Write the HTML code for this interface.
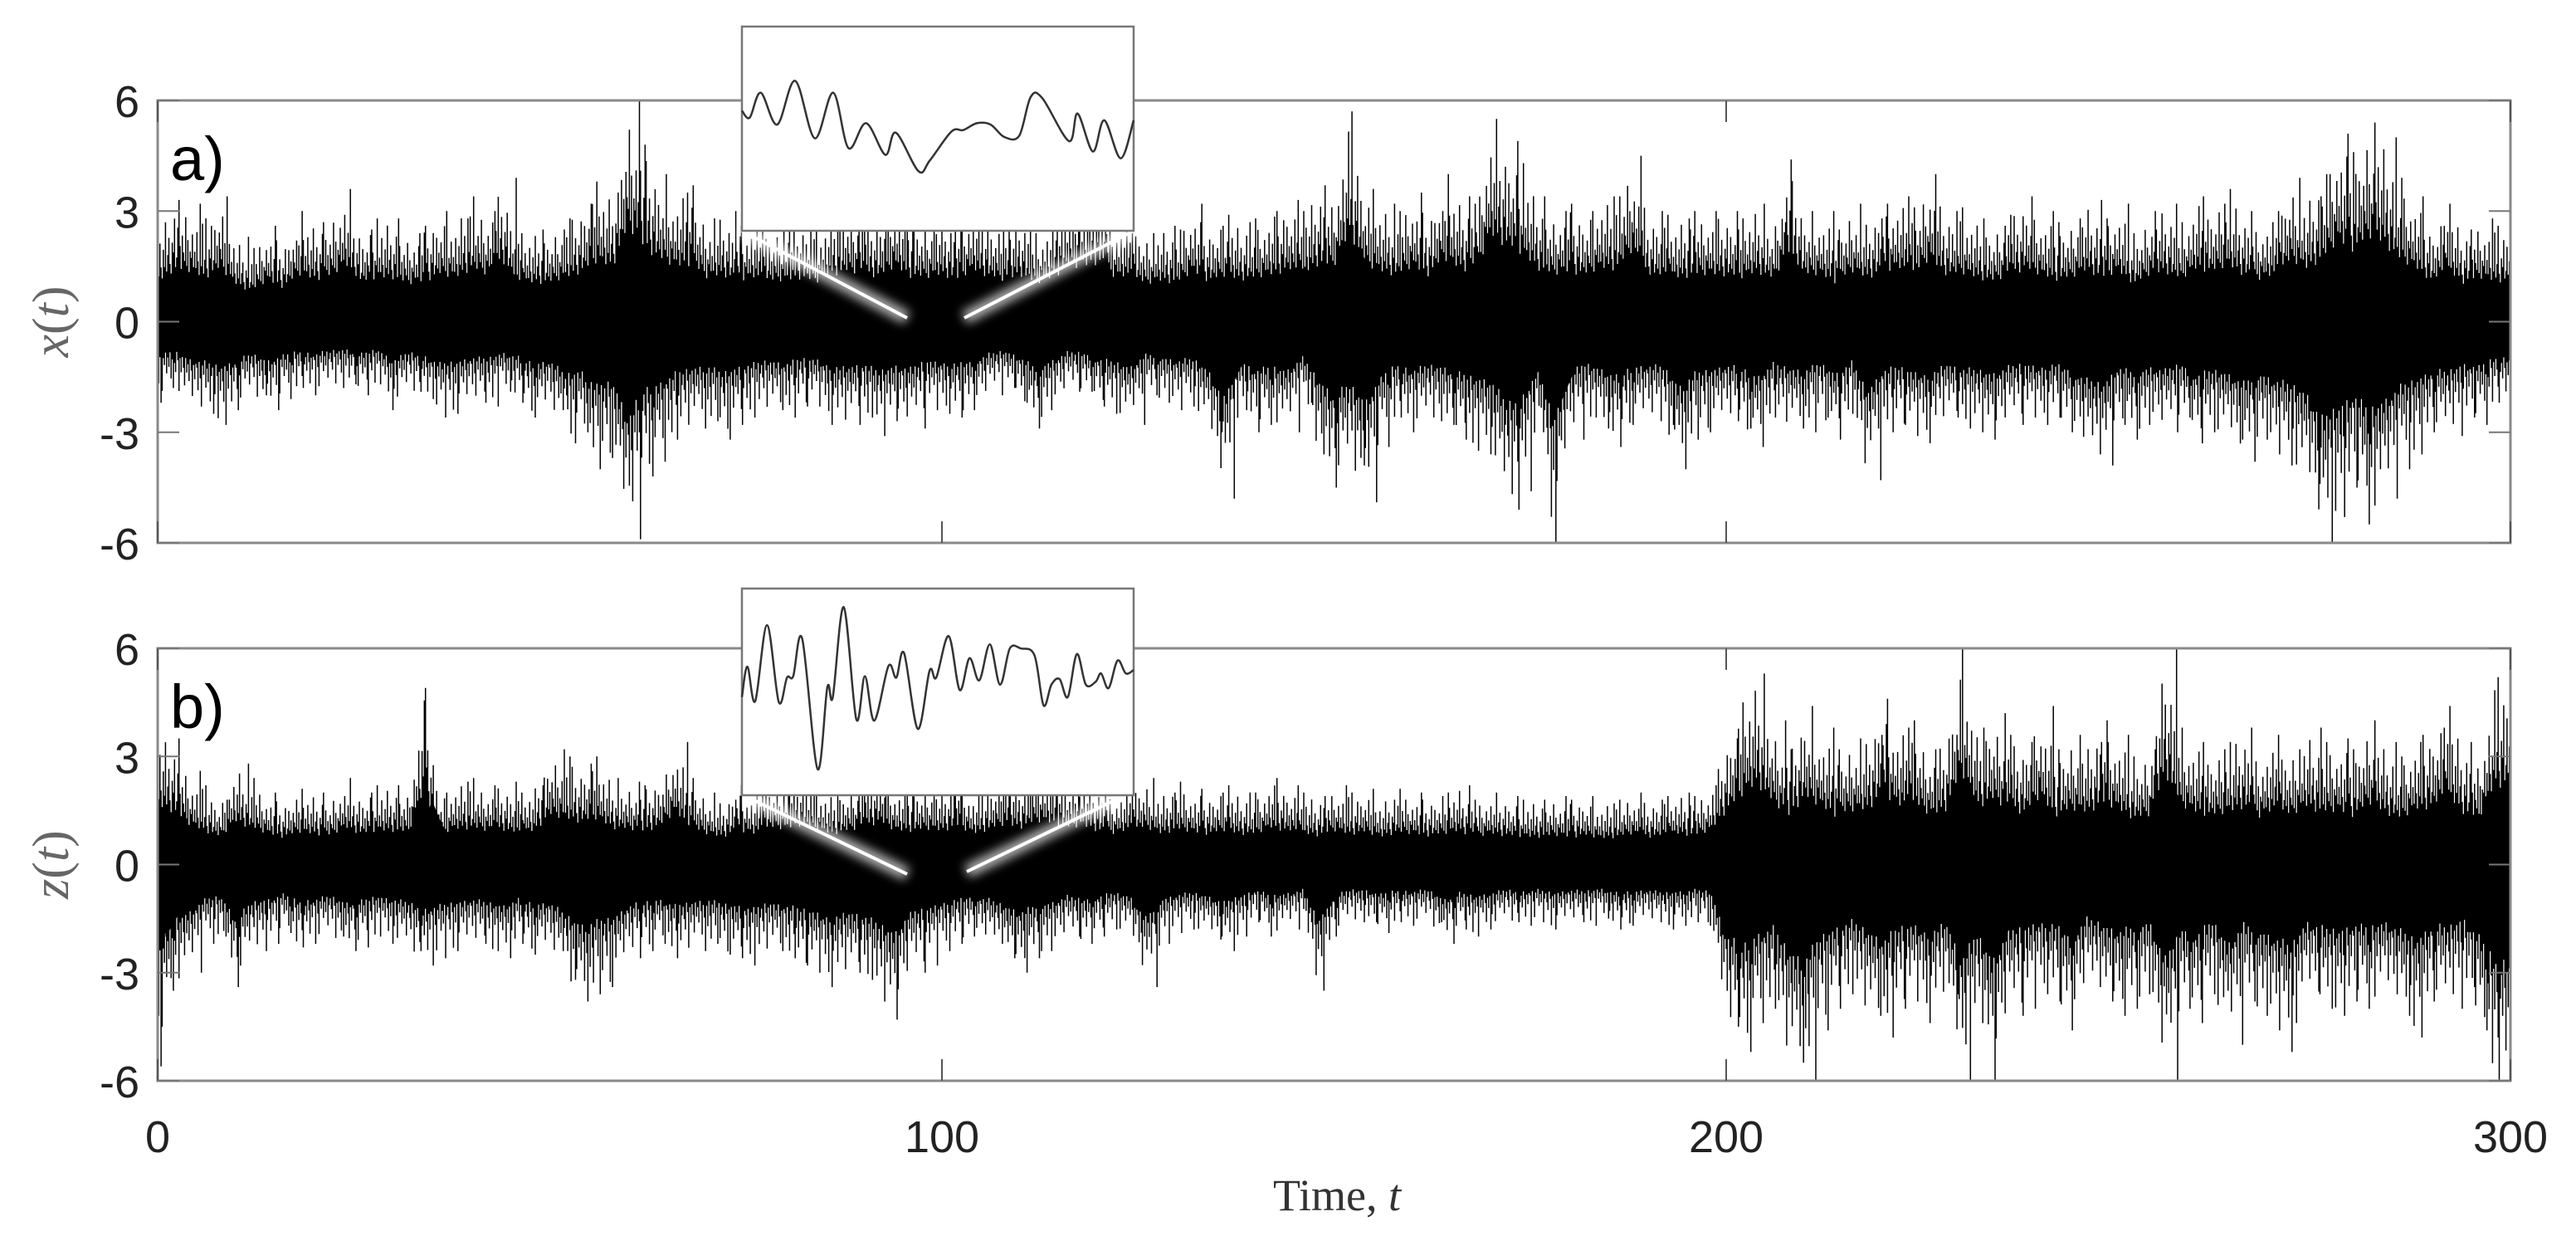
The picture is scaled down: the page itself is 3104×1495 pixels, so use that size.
<!DOCTYPE html>
<html><head><meta charset="utf-8"><style>
html,body{margin:0;padding:0;background:#fff;}
svg{display:block;}
</style></head><body>
<svg id="fig" width="3104" height="1495" viewBox="0 0 3104 1495" xmlns="http://www.w3.org/2000/svg">
<defs>
<clipPath id="clipA"><rect x="190" y="121" width="2835" height="533"/></clipPath>
<clipPath id="clipB"><rect x="190" y="781" width="2835" height="521"/></clipPath>
<filter id="glow" x="-20%" y="-50%" width="140%" height="200%"><feGaussianBlur stdDeviation="6"/></filter>
</defs>
<g id="panelA"></g>
<g id="panelB"></g>
<text x="1611" y="1458" font-family="Liberation Serif, serif" font-size="54" fill="#333" text-anchor="middle">Time, <tspan font-style="italic">t</tspan></text>
</svg>
<script>
const timeTicks = [0, 100, 200, 300];
const valueTicks = [6, 3, 0, -3, -6];
const binStart = 0, binStep = 2;
const xHi = [2.5,3.3,3.2,2.8,3.4,2.3,2.0,2.6,2.2,3.0, 2.7,2.9,3.6,2.5,2.8,2.8,2.4,2.6,3.0,2.8, 3.4,3.0,3.9,2.4,2.5,2.5,2.8,3.2,3.8,3.5, 6.0,4.8,4.0,3.5,3.7,2.8,3.0,2.6,2.8,2.6, 2.6,2.8,2.5,3.0,3.2,3.0,2.9,3.5,2.9,2.8, 3.0,2.7,3.3,2.9,2.6,3.0,2.4,2.8,3.4,3.5, 3.8,2.8,2.9,2.4,2.6,2.5,3.2,2.6,2.9,2.7, 2.8,3.0,3.3,3.0,3.7,3.5,5.7,3.6,3.2,3.0, 3.5,3.0,4.0,3.4,3.2,5.5,4.9,4.3,3.4,3.0, 3.2,3.0,3.4,3.4,4.5,3.0,2.9,2.8,3.0,3.0, 3.0,2.8,3.2,2.7,4.4,3.0,3.0,2.5,3.2,2.8, 3.2,3.4,3.1,4.0,3.0,3.1,2.8,2.6,2.9,3.4, 3.0,2.7,2.8,3.3,2.8,3.2,2.4,3.0,3.2,2.7, 3.4,3.2,3.6,3.0,2.7,3.0,3.9,3.4,4.0,5.1, 4.6,5.4,5.0,3.9,3.4,2.6,3.2,2.5,2.8,2.6];
const xLo = [-2.2,-1.8,-2.3,-2.5,-2.8,-2.4,-2.0,-2.4,-2.1,-1.8, -2.0,-1.8,-1.7,-2.0,-1.7,-2.4,-1.9,-2.1,-2.6,-2.5, -2.2,-2.3,-1.9,-2.2,-2.6,-2.4,-3.3,-3.0,-4.0,-3.7, -5.9,-4.2,-3.8,-3.2,-2.9,-2.7,-3.2,-2.8,-2.6,-2.4, -2.6,-2.3,-2.3,-2.8,-2.8,-2.6,-3.1,-2.7,-2.9,-2.4, -2.5,-2.6,-2.4,-2.0,-1.8,-2.2,-2.9,-2.4,-1.9,-1.9, -2.3,-2.5,-2.8,-2.0,-2.2,-2.4,-2.3,-3.0,-4.8,-2.4, -3.0,-2.8,-3.0,-2.2,-3.6,-4.5,-3.9,-4.9,-3.4,-2.6, -3.0,-2.7,-2.8,-3.2,-3.5,-3.6,-5.1,-4.6,-3.0,-6.0, -3.2,-2.6,-2.9,-3.4,-2.8,-2.7,-2.8,-4.0,-3.2,-3.0, -2.7,-2.9,-3.4,-2.6,-2.9,-3.0,-2.6,-3.2,-2.5,-4.3, -3.0,-2.8,-3.1,-3.3,-2.6,-2.9,-3.0,-3.2,-2.8,-2.6, -2.8,-2.6,-3.0,-3.6,-3.9,-2.8,-3.2,-2.8,-3.0,-2.6, -3.3,-3.0,-3.2,-3.8,-3.2,-3.6,-3.9,-4.4,-6.0,-5.3, -4.5,-5.5,-4.8,-4.0,-3.6,-3.0,-3.1,-2.6,-2.8,-2.2];
const zHi = [3.8,3.5,2.6,2.2,1.8,2.8,2.4,2.0,1.8,2.1, 2.0,1.9,2.4,2.0,2.2,2.2,2.1,4.9,2.0,2.3, 2.4,2.2,2.3,2.0,2.2,3.2,3.0,2.8,3.0,2.4, 2.3,2.2,2.5,3.4,2.4,2.0,1.8,2.2,2.0,2.4, 2.3,2.6,2.2,2.0,2.2,2.4,2.8,2.2,2.2,2.3, 2.2,2.5,2.0,2.3,2.6,2.4,2.8,2.7,2.4,2.5, 2.2,2.0,2.3,2.4,2.0,2.3,2.1,2.0,2.2,2.0, 2.0,2.4,2.2,2.0,1.9,2.2,2.0,2.1,1.8,2.1, 2.0,1.9,2.0,2.2,1.8,2.0,1.9,1.8,1.8,1.9, 1.8,1.9,1.7,1.8,2.0,1.8,1.9,2.0,1.9,2.2, 3.5,4.5,5.3,4.0,3.2,4.4,3.8,3.2,3.5,3.6, 4.6,3.8,4.0,3.2,3.6,6.0,3.8,4.2,3.6,3.4, 4.4,3.2,3.6,3.4,4.0,3.6,3.0,3.2,6.0,3.8, 3.4,3.2,3.4,3.8,3.1,3.6,3.2,3.8,3.4,3.5, 3.2,4.0,3.4,3.0,3.6,3.8,4.4,3.4,3.0,5.2];
const zLo = [-5.6,-3.5,-3.0,-2.2,-2.0,-3.4,-2.4,-2.2,-1.9,-2.3, -2.2,-2.0,-2.4,-2.3,-2.0,-2.2,-2.4,-2.8,-2.6,-2.4, -2.2,-2.4,-2.6,-2.2,-2.5,-2.4,-3.2,-3.8,-3.6,-3.4, -2.6,-2.4,-2.2,-2.6,-2.4,-2.2,-2.5,-2.6,-2.8,-2.4, -2.6,-2.8,-3.0,-3.4,-3.0,-3.2,-3.8,-4.3,-3.0,-2.8, -2.4,-2.2,-2.0,-2.2,-2.6,-3.0,-2.6,-2.4,-2.0,-2.2, -2.0,-1.8,-2.0,-3.4,-2.2,-1.9,-1.8,-2.0,-2.4,-2.0, -1.6,-2.0,-1.8,-1.6,-3.5,-2.0,-1.6,-1.6,-1.9,-1.6, -1.7,-1.6,-2.2,-1.8,-2.0,-1.8,-1.6,-1.7,-1.6,-1.8, -1.6,-1.7,-1.5,-1.8,-1.7,-1.6,-1.8,-1.7,-1.6,-1.7, -4.5,-5.2,-4.4,-4.0,-5.5,-6.0,-4.6,-4.0,-3.6,-4.2, -4.8,-4.0,-3.8,-4.4,-3.6,-6.0,-4.4,-6.0,-4.2,-4.0, -3.6,-3.8,-4.6,-3.4,-3.8,-4.2,-4.0,-3.6,-6.0,-4.0, -4.4,-3.6,-5.0,-3.8,-4.2,-4.6,-5.2,-3.6,-4.0,-4.2, -3.8,-4.0,-3.6,-4.2,-4.8,-3.8,-4.0,-3.4,-4.6,-6.0];
const insetAX = [0,0.02,0.048,0.09,0.136,0.186,0.233,0.272,0.317,0.366,0.393,0.451,0.48,0.535,0.565,0.6,0.635,0.67,0.708,0.737,0.767,0.835,0.857,0.896,0.925,0.967,1];
const insetAY = [0.412,0.446,0.324,0.480,0.266,0.547,0.324,0.595,0.473,0.628,0.520,0.709,0.655,0.514,0.507,0.473,0.480,0.541,0.534,0.345,0.351,0.561,0.426,0.612,0.459,0.645,0.459];
const insetBX = [0,0.014,0.034,0.064,0.094,0.115,0.131,0.154,0.193,0.218,0.232,0.26,0.292,0.314,0.338,0.374,0.394,0.414,0.449,0.479,0.496,0.528,0.556,0.581,0.606,0.633,0.659,0.684,0.712,0.747,0.77,0.79,0.811,0.832,0.855,0.878,0.903,0.917,0.936,0.959,0.98,1];
const insetBY = [0.525,0.378,0.545,0.177,0.549,0.431,0.424,0.244,0.873,0.478,0.525,0.090,0.632,0.424,0.639,0.375,0.431,0.313,0.679,0.398,0.431,0.230,0.491,0.337,0.444,0.270,0.465,0.290,0.290,0.324,0.565,0.465,0.438,0.525,0.317,0.465,0.451,0.411,0.482,0.348,0.411,0.394];

const NS = 'http://www.w3.org/2000/svg';
function mk(parent, tag, attrs){ const e = document.createElementNS(NS, tag); for (const k in attrs) e.setAttribute(k, attrs[k]); parent.appendChild(e); return e; }
const X0 = 190, X1 = 3025;
function xScale(t){ return X0 + (t - 0) / 300 * (X1 - X0); }
// rendering texture pattern (fractions of envelope), not data
const texH = [0.62,0.48,0.81,0.55,0.43,0.7,0.52,0.93,0.46,0.6,0.74,0.5,0.41,0.66,0.57,0.85,0.45,0.53,0.78,0.49,0.63,0.44,0.72,0.58,0.51,0.88,0.47,0.69,0.42,0.6,0.55,0.76,0.48];
const texL = [0.52,0.77,0.45,0.63,0.9,0.48,0.58,0.42,0.71,0.5,0.64,0.44,0.83,0.56,0.47,0.61,0.73,0.43,0.54,0.95,0.49,0.67,0.46,0.59,0.8,0.45,0.62,0.51,0.7,0.44,0.57,0.86,0.5,0.66,0.48];

function drawPanel(g, top, bot, hi, lo, clipId, label, axisLabel, panelLabel, inset, insetX, insetY, conn, showXTicks){
  const yScale = v => top + (6 - v) / 12 * (bot - top);
  const dg = mk(g, 'g', {'clip-path': 'url(#' + clipId + ')'});
  
  
  let d = '';
  const K = 14;
  let c = 0;
  for (let i = 0; i < hi.length; i++){
    const nh = i + 1 < hi.length ? hi[i+1] : hi[i];
    const nl = i + 1 < lo.length ? lo[i+1] : lo[i];
    const spikeK = (i * 5) % K, spikeK2 = (i * 11 + 3) % K;
    for (let k = 0; k < K; k++){
      const f = k / K;
      const t = binStart + (i + f) * binStep;
      const eh = hi[i] * (1 - f) + nh * f, el = lo[i] * (1 - f) + nl * f;
      let h = eh * texH[c % texH.length];
      let l = el * texL[c % texL.length];
      if (k === spikeK) h = hi[i];
      if (k === spikeK2) l = lo[i];
      c++;
      const x = xScale(t).toFixed(1);
      d += 'M' + x + ' ' + yScale(h).toFixed(1) + 'V' + yScale(l).toFixed(1);
    }
  }
  const p = mk(dg, 'path', {d: d, stroke: '#000', 'stroke-width': 1.5, fill: 'none'});
  
  
  let core = '';
  for (let i = 0; i < hi.length; i++) core += (i ? 'L' : 'M') + xScale(binStart + (i + 0.5) * binStep).toFixed(1) + ' ' + yScale(hi[i] * 0.36).toFixed(1);
  for (let i = hi.length - 1; i >= 0; i--) core += 'L' + xScale(binStart + (i + 0.5) * binStep).toFixed(1) + ' ' + yScale(lo[i] * 0.36).toFixed(1);
  const cb = mk(dg, 'path', {d: core + 'Z', fill: '#000'});
  
  
  const box = mk(g, 'rect', {x: X0, y: top, width: X1 - X0, height: bot - top, fill: 'none', stroke: '#8a8a8a', 'stroke-width': 3});
  
  
  for (const t of timeTicks){
    const x = xScale(t);
    const tk = mk(g, 'path', {d: 'M' + x + ' ' + bot + 'v-26M' + x + ' ' + top + 'v26', stroke: '#555', 'stroke-width': 2});
    
    
    if (showXTicks){
      const tl = mk(g, 'text', {x: x, y: bot + 86, 'font-family': 'Liberation Sans, sans-serif', 'font-size': 54, fill: '#222', 'text-anchor': 'middle'});
      tl.textContent = t;
      
      
    }
  }
  for (const v of valueTicks){
    const y = yScale(v);
    const tk = mk(g, 'path', {d: 'M' + X0 + ' ' + y + 'h26M' + X1 + ' ' + y + 'h-26', stroke: '#777', 'stroke-width': 2});
    
    
    const tl = mk(g, 'text', {x: 168, y: y + 20, 'font-family': 'Liberation Sans, sans-serif', 'font-size': 54, fill: '#222', 'text-anchor': 'end'});
    tl.textContent = v;
    
    
  }
  const cy = (top + bot) / 2;
  const yt = mk(g, 'text', {x: 0, y: 0, transform: 'translate(82,' + cy + ') rotate(-90)', 'font-family': 'Liberation Serif, serif', 'font-size': 62, 'font-style': 'italic', fill: '#666', 'text-anchor': 'middle'});
  yt.innerHTML = axisLabel + '<tspan font-style="normal">(</tspan>t<tspan font-style="normal">)</tspan>';
  
  
  const pl = mk(g, 'text', {x: 205, y: top + 96, 'font-family': 'Liberation Sans, sans-serif', 'font-size': 74, fill: '#000'});
  pl.textContent = panelLabel;
  
  
  const cg = mk(g, 'g', {});
  
  
  const cd = 'M' + conn[0] + ' ' + conn[1] + 'L' + conn[2] + ' ' + conn[3] + 'M' + conn[4] + ' ' + conn[5] + 'L' + conn[6] + ' ' + conn[7];
  mk(cg, 'path', {d: cd, stroke: '#fff', 'stroke-width': 16, opacity: 0.7, fill: 'none', filter: 'url(#glow)'});
  mk(cg, 'path', {d: cd, stroke: '#fff', 'stroke-width': 4, fill: 'none'});
  const ig = mk(g, 'g', {});
  
  
  const [ix, iy, iw, ih] = inset;
  mk(ig, 'rect', {x: ix, y: iy, width: iw, height: ih, fill: '#fff', stroke: '#777', 'stroke-width': 2.5});
  const px = insetX.map(f => ix + f * iw), py = insetY.map(f => iy + f * ih);
  let cdp = 'M' + px[0] + ' ' + py[0];
  for (let i = 0; i < px.length - 1; i++){
    const p0x = px[Math.max(0,i-1)], p0y = py[Math.max(0,i-1)];
    const p3x = px[Math.min(px.length-1,i+2)], p3y = py[Math.min(px.length-1,i+2)];
    const c1x = px[i] + (px[i+1] - p0x) / 6, c1y = py[i] + (py[i+1] - p0y) / 6;
    const c2x = px[i+1] - (p3x - px[i]) / 6, c2y = py[i+1] - (p3y - py[i]) / 6;
    cdp += 'C' + c1x.toFixed(1) + ' ' + c1y.toFixed(1) + ' ' + c2x.toFixed(1) + ' ' + c2y.toFixed(1) + ' ' + px[i+1].toFixed(1) + ' ' + py[i+1].toFixed(1);
  }
  const ic = mk(ig, 'path', {d: cdp, stroke: '#333', 'stroke-width': 2.5, fill: 'none'});
  
  
}
drawPanel(document.getElementById('panelA'), 121, 654, xHi, xLo, 'clipA', 'x', 'x', 'a)', [894, 32, 472, 246], insetAX, insetAY, [894,278,1093,383,1162,383,1366,278], false);
drawPanel(document.getElementById('panelB'), 781, 1302, zHi, zLo, 'clipB', 'z', 'z', 'b)', [894, 709, 472, 249], insetBX, insetBY, [900,960,1093,1053,1165,1050,1345,963], true);
</script>
</body></html>
